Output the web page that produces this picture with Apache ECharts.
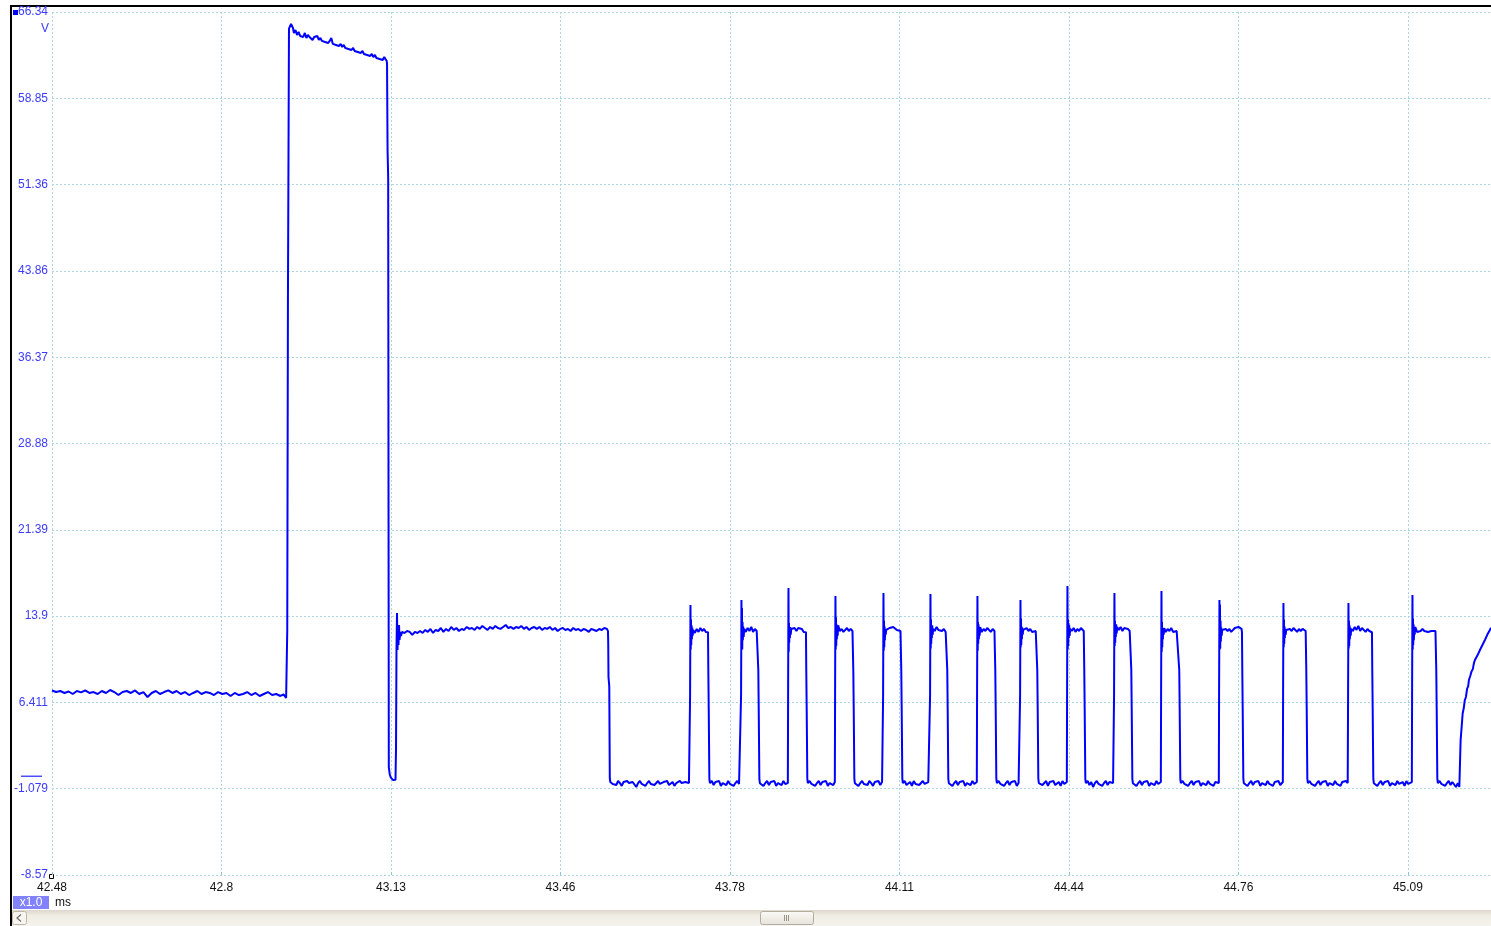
<!DOCTYPE html>
<html>
<head>
<meta charset="utf-8">
<script src="https://cdn.jsdelivr.net/npm/echarts@6/dist/echarts.min.js"></script>
<style>
html,body{margin:0;padding:0;background:#fff;overflow:hidden}
#chart{width:1491px;height:926px}
</style>
</head>
<body>
<div id="chart"></div>
<script>
// ---- axis tick labels (as printed on the scope screen) ----
const xTickLabels = ['42.48','42.8','43.13','43.46','43.78','44.11','44.44','44.76','45.09'];
const yTickLabels = ['-8.57','-1.079','6.411','13.9','21.39','28.88','36.37','43.86','51.36','58.85','66.34'];
const xUnit = 'ms';
const yUnit = 'V';
const zoomLabel = 'x1.0';
// scale of one grid division
const X_START = 42.478, X_DIV = 0.3265, X_END = 45.25;
const Y_START = -8.57, Y_DIV = 7.491, Y_DIVS = 10;

// ---- waveform samples [time ms, volts] ----
const idleLevel = [
[42.478,7.45],[42.486,7.32],[42.494,7.40],[42.502,7.23],[42.510,7.36],[42.518,7.14],[42.526,7.40],[42.534,7.28],
[42.542,7.45],[42.550,7.23],[42.558,7.31],[42.566,7.14],[42.574,7.40],[42.582,7.23],[42.590,7.49],[42.598,7.31],
[42.606,7.05],[42.614,7.31],[42.622,7.40],[42.630,7.23],[42.638,7.45],[42.646,7.14],[42.654,7.31],[42.662,6.88],
[42.670,7.23],[42.678,7.40],[42.686,7.14],[42.694,7.31],[42.702,7.45],[42.710,7.23],[42.718,7.40],[42.726,7.14],
[42.734,7.31],[42.742,7.05],[42.750,7.23],[42.758,7.40],[42.766,7.14],[42.774,7.31],[42.782,7.23],[42.790,7.05],
[42.798,7.31],[42.806,7.14],[42.814,7.23],[42.822,6.97],[42.830,7.23],[42.838,7.05],[42.846,7.14],[42.854,7.31],
[42.862,7.05],[42.870,7.23],[42.878,6.97],[42.886,7.14],[42.894,7.31],[42.902,7.05],[42.910,7.14],[42.918,6.97],
[42.924,7.10],[42.929,6.80]
];
const boostPhase = [
[42.9300,6.75],[42.9312,12.70],[42.9325,41.34],[42.9345,64.90],[42.9365,65.04],[42.9385,65.30],[42.9403,65.47],
[42.9422,64.95],[42.9440,64.52],[42.9470,64.78],[42.9500,64.35],[42.9530,64.61],[42.9560,64.26],[42.9590,64.43],
[42.9620,64.17],[42.9650,64.52],[42.9680,64.09],[42.9710,64.35],[42.9740,64.17],[42.9770,64.26],[42.9800,63.91],
[42.9830,64.17],[42.9860,64.00],[42.9890,64.26],[42.9920,63.91],[42.9950,64.09],[42.9980,63.83],[43.0010,64.00],
[43.0040,63.74],[43.0070,63.91],[43.0100,63.65],[43.0130,63.83],[43.0160,64.09],[43.0190,63.57],[43.0220,63.74],
[43.0250,63.48],[43.0280,63.65],[43.0310,63.39],[43.0340,63.57],[43.0370,63.30],[43.0400,63.48],[43.0430,63.22],
[43.0460,63.39],[43.0490,63.13],[43.0520,63.30],[43.0550,63.04],[43.0580,63.22],[43.0610,62.96],[43.0640,63.13],
[43.0670,62.87],[43.0700,63.04],[43.0730,62.78],[43.0760,62.96],[43.0790,62.70],[43.0820,62.87],[43.0850,62.61],
[43.0880,62.78],[43.0910,62.52],[43.0940,62.70],[43.0970,62.43],[43.1000,62.61],[43.1030,62.35],[43.1060,62.52],
[43.1090,62.26],[43.1120,62.43],[43.1150,62.17],[43.1180,62.43],[43.1210,62.26],[43.1228,62.09],
[43.1234,61.80],[43.1244,54.36],[43.1256,52.00],[43.1268,0.80],[43.1285,0.20],[43.1305,-0.10],[43.1330,-0.15],
[43.1350,-0.33],[43.1370,-0.41],[43.1385,-0.50],[43.1397,-0.30]
];
const holdPhase = [
[43.1407,2.45],[43.1416,10.96],[43.1426,14.17],[43.1436,10.96],[43.1445,12.87],[43.1455,11.39],[43.1465,13.13],
[43.1475,11.83],[43.1490,12.53],[43.1505,12.18],
[43.152,12.53],[43.157,12.44],[43.162,12.61],[43.167,12.53],[43.172,12.27],[43.177,12.53],[43.182,12.44],[43.187,12.61],
[43.192,12.44],[43.197,12.70],[43.202,12.53],[43.207,12.79],[43.212,12.44],[43.217,12.70],[43.222,12.61],[43.227,12.87],
[43.232,12.53],[43.237,12.79],[43.242,12.61],[43.247,12.96],[43.252,12.70],[43.257,12.87],[43.262,12.61],[43.267,12.79],
[43.272,12.70],[43.277,12.96],[43.282,12.79],[43.287,12.87],[43.292,12.70],[43.297,12.96],[43.302,12.79],[43.307,13.05],
[43.312,12.87],[43.317,12.70],[43.322,12.96],[43.327,12.79],[43.332,13.05],[43.337,12.87],[43.342,12.79],[43.347,12.96],
[43.352,13.13],[43.357,12.87],[43.362,12.96],[43.367,12.79],[43.372,12.96],[43.377,12.87],[43.382,13.05],[43.387,12.79],
[43.392,12.96],[43.397,12.70],[43.402,12.87],[43.407,12.96],[43.412,12.79],[43.417,12.96],[43.422,12.70],[43.427,12.87],
[43.432,12.79],[43.437,12.96],[43.442,12.70],[43.447,12.87],[43.452,12.61],[43.457,12.79],[43.462,12.87],[43.467,12.70],
[43.472,12.79],[43.477,12.61],[43.482,12.87],[43.487,12.70],[43.492,12.79],[43.497,12.61],[43.502,12.79],[43.507,12.70],
[43.512,12.53],[43.517,12.79],[43.522,12.70],[43.527,12.61],[43.532,12.79],[43.537,12.70],[43.542,12.87],[43.547,12.79],
[43.5490,12.60],[43.5495,11.50],[43.5500,8.62],[43.5515,7.80],[43.5525,-0.15],[43.5535,-0.50]
];
const lowGap = [
[43.5545,-0.41],[43.5580,-0.67],[43.5615,-0.50],[43.5650,-0.76],[43.5685,-0.41],[43.5720,-0.59],[43.5755,-0.84],
[43.5790,-0.50],[43.5825,-0.67],[43.5860,-0.41],[43.5895,-0.59],[43.5930,-0.76],[43.5965,-0.50],[43.6000,-0.67],
[43.6035,-0.93],[43.6070,-0.59],[43.6105,-0.41],[43.6140,-0.67],[43.6175,-0.50],[43.6210,-0.84],[43.6245,-0.59],
[43.6280,-0.41],[43.6315,-0.67],[43.6350,-0.50],[43.6385,-0.76],[43.6420,-0.59],[43.6455,-0.41],[43.6490,-0.67],
[43.6525,-0.84],[43.6560,-0.50],[43.6595,-0.67],[43.6630,-0.41],[43.6665,-0.76],[43.6700,-0.59],[43.6735,-0.50],
[43.6770,-0.84],[43.6805,-0.59],[43.6840,-0.67],[43.6875,-0.41],[43.6910,-0.59],[43.6945,-0.76],[43.6980,-0.50],
[43.7015,-0.67],[43.7050,-0.59],[43.7065,-0.50]
];
const pulsesA = [
// pulse 1
[43.7072,7.05],[43.7079,14.87],[43.7084,11.0],[43.7089,13.6],[43.7094,11.4],[43.7100,13.1],[43.7106,11.9],[43.7113,12.9],
[43.7122,12.2],[43.7132,12.7],[43.7165,12.44],[43.7200,12.79],[43.7235,12.53],[43.7270,12.87],[43.7305,12.61],[43.7340,12.79],
[43.7375,12.53],[43.7410,12.70],[43.7417,12.5],[43.7423,9.2],[43.7431,5.8],[43.7443,-0.2],[43.7453,-0.6],
[43.7490,-0.41],[43.7525,-0.76],[43.7560,-0.50],[43.7595,-0.67],[43.7630,-0.41],[43.7665,-0.84],[43.7700,-0.59],[43.7735,-0.50],
[43.7770,-0.76],[43.7805,-0.41],[43.7840,-0.67],[43.7875,-0.50],[43.7910,-0.84],[43.7945,-0.59],[43.7980,-0.41],[43.8015,-0.67],[43.8049,-0.50],
// pulse 2
[43.8054,7.05],[43.8061,15.30],[43.8066,11.2],[43.8071,14.6],[43.8076,11.0],[43.8082,13.4],[43.8088,11.8],[43.8095,13.0],
[43.8104,12.1],[43.8114,12.8],[43.8145,12.53],[43.8180,12.87],[43.8215,12.61],[43.8250,12.96],[43.8285,12.53],[43.8320,12.79],
[43.8355,12.61],[43.8378,12.70],[43.8380,12.5],[43.8386,9.2],[43.8394,5.8],[43.8406,-0.2],[43.8416,-0.6],
[43.8450,-0.50],[43.8485,-0.84],[43.8520,-0.59],[43.8555,-0.41],[43.8590,-0.76],[43.8625,-0.50],[43.8660,-0.67],[43.8695,-0.41],
[43.8730,-0.84],[43.8765,-0.59],[43.8800,-0.50],[43.8835,-0.76],[43.8870,-0.41],[43.8905,-0.67],[43.8940,-0.50],[43.8955,-0.59],
// pulse 3
[43.8960,7.05],[43.8967,16.34],[43.8972,10.8],[43.8977,13.3],[43.8982,11.6],[43.8988,12.9],[43.8994,12.0],[43.9001,12.96],
[43.9010,12.3],[43.9020,12.79],[43.9050,12.70],[43.9085,12.87],[43.9120,12.61],[43.9155,12.87],[43.9190,12.70],[43.9225,12.79],
[43.9260,12.53],[43.9295,12.70],[43.9304,12.5],[43.9310,9.2],[43.9318,5.8],[43.9330,-0.2],[43.9340,-0.6],
[43.9375,-0.41],[43.9410,-0.67],[43.9445,-0.50],[43.9480,-0.84],[43.9515,-0.59],[43.9550,-0.41],[43.9585,-0.76],[43.9620,-0.50],
[43.9655,-0.67],[43.9690,-0.41],[43.9725,-0.84],[43.9760,-0.59],[43.9795,-0.50],[43.9830,-0.76],[43.9860,-0.50],
// pulse 4
[43.9865,7.05],[43.9872,15.65],[43.9877,11.0],[43.9882,13.8],[43.9887,11.3],[43.9893,13.2],[43.9899,11.9],[43.9906,12.9],
[43.9915,12.2],[43.9925,13.1],[43.9955,12.61],[43.9990,12.79],[44.0025,12.53],[44.0060,12.70],[44.0095,12.87],[44.0130,12.61],
[44.0165,12.79],[44.0200,12.61],[44.0210,12.5],[44.0216,9.2],[44.0224,5.8],[44.0236,-0.2],[44.0246,-0.6],
[44.0280,-0.50],[44.0315,-0.84],[44.0350,-0.59],[44.0385,-0.41],[44.0420,-0.67],[44.0455,-0.50],[44.0490,-0.76],[44.0525,-0.41],
[44.0560,-0.59],[44.0595,-0.84],[44.0630,-0.50],[44.0665,-0.67],[44.0700,-0.41],[44.0735,-0.76],[44.0770,-0.50],[44.0785,-0.59],
// pulse 5
[44.0790,7.05],[44.0797,15.91],[44.0802,10.9],[44.0807,13.5],[44.0812,11.2],[44.0818,13.0],[44.0824,11.8],[44.0831,12.8],
[44.0840,12.3],[44.0850,12.7],[44.0880,12.61],[44.0915,12.87],[44.0950,12.70],[44.0985,12.96],[44.1020,12.79],[44.1055,12.70],
[44.1090,12.53],[44.1125,12.61],[44.1134,12.5],[44.1140,9.2],[44.1148,5.8],[44.1160,-0.2],[44.1170,-0.6],
[44.1205,-0.41],[44.1240,-0.76],[44.1275,-0.59],[44.1310,-0.50],[44.1345,-0.84],[44.1380,-0.41],[44.1415,-0.67],[44.1450,-0.50],
[44.1485,-0.76],[44.1520,-0.59],[44.1555,-0.41],[44.1590,-0.67],[44.1625,-0.84],[44.1660,-0.50],[44.1690,-0.59]
];
const pulsesB = [
// pulse 6
[44.1695,7.05],[44.1702,15.82],[44.1707,11.1],[44.1712,13.6],[44.1717,11.5],[44.1723,12.9],[44.1729,12.0],[44.1736,13.1],
[44.1745,12.3],[44.1755,12.8],[44.1785,12.61],[44.1820,12.96],[44.1855,12.70],[44.1890,12.79],[44.1925,12.61],[44.1960,12.79],
[44.1995,12.53],[44.2015,12.70],[44.2020,12.5],[44.2026,9.2],[44.2034,5.8],[44.2046,-0.2],[44.2056,-0.6],
[44.2090,-0.50],[44.2125,-0.84],[44.2160,-0.59],[44.2195,-0.41],[44.2230,-0.76],[44.2265,-0.50],[44.2300,-0.67],[44.2335,-0.41],
[44.2370,-0.84],[44.2405,-0.59],[44.2440,-0.50],[44.2475,-0.76],[44.2510,-0.41],[44.2545,-0.67],[44.2580,-0.59],[44.2595,-0.50],
// pulse 7
[44.2600,7.05],[44.2607,15.65],[44.2612,10.9],[44.2617,13.4],[44.2622,11.5],[44.2628,13.2],[44.2634,11.9],[44.2641,12.8],
[44.2650,12.2],[44.2660,12.96],[44.2690,12.53],[44.2725,12.79],[44.2760,12.61],[44.2795,12.87],[44.2830,12.70],[44.2865,12.53],
[44.2900,12.79],[44.2935,12.61],[44.2945,12.5],[44.2951,9.2],[44.2959,5.8],[44.2971,-0.2],[44.2981,-0.6],
[44.3015,-0.41],[44.3050,-0.67],[44.3085,-0.50],[44.3120,-0.84],[44.3155,-0.59],[44.3190,-0.41],[44.3225,-0.76],[44.3260,-0.50],
[44.3295,-0.67],[44.3330,-0.41],[44.3365,-0.84],[44.3400,-0.59],[44.3424,-0.50],
// pulse 8
[44.3429,7.05],[44.3436,15.30],[44.3441,11.2],[44.3446,13.7],[44.3451,11.4],[44.3457,13.0],[44.3463,11.9],[44.3470,12.9],
[44.3479,12.3],[44.3489,12.7],[44.3520,12.53],[44.3555,12.87],[44.3590,12.61],[44.3625,12.79],[44.3660,12.53],[44.3695,12.70],
[44.3730,12.61],[44.3750,12.70],[44.3754,12.5],[44.3760,9.2],[44.3768,5.8],[44.3780,-0.2],[44.3790,-0.6],
[44.3825,-0.50],[44.3860,-0.76],[44.3895,-0.59],[44.3930,-0.41],[44.3965,-0.84],[44.4000,-0.50],[44.4035,-0.67],[44.4070,-0.41],
[44.4105,-0.76],[44.4140,-0.59],[44.4175,-0.50],[44.4210,-0.84],[44.4245,-0.41],[44.4280,-0.67],[44.4315,-0.59],[44.4329,-0.50],
// pulse 9
[44.4334,7.05],[44.4341,16.52],[44.4346,11.0],[44.4351,13.6],[44.4356,11.3],[44.4362,13.3],[44.4368,12.0],[44.4375,13.1],
[44.4384,12.2],[44.4394,12.8],[44.4425,12.61],[44.4460,12.87],[44.4495,12.53],[44.4530,12.79],[44.4565,12.61],[44.4600,12.87],
[44.4635,12.70],[44.4655,12.61],[44.4659,12.5],[44.4665,9.2],[44.4673,5.8],[44.4685,-0.2],[44.4695,-0.6],
[44.4730,-0.41],[44.4765,-0.76],[44.4800,-0.50],[44.4835,-0.93],[44.4870,-0.59],[44.4905,-0.41],[44.4940,-0.67],[44.4975,-0.50],
[44.5010,-0.84],[44.5045,-0.59],[44.5080,-0.41],[44.5115,-0.76],[44.5150,-0.50],[44.5185,-0.67],[44.5220,-0.59],[44.5234,-0.50],
// pulse 10
[44.5239,7.05],[44.5246,15.91],[44.5251,11.3],[44.5256,13.5],[44.5261,11.6],[44.5267,13.1],[44.5273,12.1],[44.5280,13.2],
[44.5289,12.4],[44.5299,12.96],[44.5330,12.70],[44.5365,12.96],[44.5400,12.61],[44.5435,12.87],[44.5470,12.70],[44.5505,12.79],
[44.5540,12.61],[44.5560,12.70],[44.5565,12.5],[44.5571,9.2],[44.5579,5.8],[44.5591,-0.2],[44.5601,-0.6],
[44.5635,-0.50],[44.5670,-0.84],[44.5705,-0.59],[44.5740,-0.41],[44.5775,-0.76],[44.5810,-0.50],[44.5845,-0.67],[44.5880,-0.41],
[44.5915,-0.84],[44.5950,-0.59],[44.5985,-0.50],[44.6020,-0.76],[44.6055,-0.41],[44.6090,-0.67],[44.6125,-0.59],[44.6140,-0.50]
];
const pulsesC = [
// pulse 11
[44.6145,7.05],[44.6152,16.08],[44.6157,10.8],[44.6162,13.4],[44.6167,11.2],[44.6173,12.9],[44.6179,11.9],[44.6186,12.8],
[44.6195,12.3],[44.6205,12.87],[44.6235,12.53],[44.6270,12.79],[44.6305,12.61],[44.6340,12.87],[44.6375,12.53],[44.6410,12.70],
[44.6445,12.61],[44.6480,12.53],[44.6489,12.5],[44.6495,9.2],[44.6503,5.8],[44.6515,-0.2],[44.6525,-0.6],
[44.6560,-0.41],[44.6595,-0.67],[44.6630,-0.50],[44.6665,-0.84],[44.6700,-0.59],[44.6735,-0.41],[44.6770,-0.76],[44.6805,-0.50],
[44.6840,-0.67],[44.6875,-0.41],[44.6910,-0.84],[44.6945,-0.59],[44.6980,-0.50],[44.7015,-0.76],[44.7050,-0.41],[44.7085,-0.67],
[44.7120,-0.59],[44.7155,-0.84],[44.7190,-0.50],[44.7225,-0.67],[44.7257,-0.59],
// pulse 12
[44.7262,7.05],[44.7269,15.30],[44.7274,11.0],[44.7279,14.9],[44.7284,11.1],[44.7290,13.5],[44.7296,11.7],[44.7303,12.9],
[44.7312,12.2],[44.7322,12.7],[44.7355,12.53],[44.7390,12.79],[44.7425,12.61],[44.7460,12.79],[44.7495,12.53],[44.7530,12.70],
[44.7565,12.87],[44.7600,12.70],[44.7635,12.96],[44.7670,13.13],[44.7695,12.79],[44.7703,12.5],[44.7709,9.2],[44.7717,5.8],
[44.7729,-0.2],[44.7739,-0.6],
[44.7775,-0.50],[44.7810,-0.84],[44.7845,-0.59],[44.7880,-0.41],[44.7915,-0.76],[44.7950,-0.50],[44.7985,-0.67],[44.8020,-0.41],
[44.8055,-0.84],[44.8090,-0.59],[44.8125,-0.50],[44.8160,-0.76],[44.8195,-0.41],[44.8230,-0.67],[44.8265,-0.59],[44.8300,-0.84],
[44.8335,-0.50],[44.8370,-0.67],[44.8405,-0.41],[44.8440,-0.76],[44.8475,-0.59],[44.8490,-0.50],
// pulse 13
[44.8495,7.05],[44.8502,15.04],[44.8507,11.2],[44.8512,13.6],[44.8517,11.5],[44.8523,13.0],[44.8529,12.0],[44.8536,12.8],
[44.8545,12.3],[44.8555,12.7],[44.8590,12.53],[44.8625,12.79],[44.8660,12.61],[44.8695,12.87],[44.8730,12.70],[44.8765,12.53],
[44.8800,12.79],[44.8835,12.61],[44.8870,12.79],[44.8905,12.70],[44.8930,12.61],[44.8936,12.5],[44.8942,9.2],[44.8950,5.8],
[44.8962,-0.2],[44.8972,-0.6],
[44.9005,-0.41],[44.9040,-0.67],[44.9075,-0.50],[44.9110,-0.84],[44.9145,-0.59],[44.9180,-0.41],[44.9215,-0.76],[44.9250,-0.50],
[44.9285,-0.67],[44.9320,-0.41],[44.9355,-0.84],[44.9390,-0.59],[44.9425,-0.50],[44.9460,-0.76],[44.9495,-0.41],[44.9530,-0.67],
[44.9565,-0.59],[44.9600,-0.84],[44.9635,-0.50],[44.9670,-0.67],[44.9705,-0.41],[44.9740,-0.59],
// pulse 14
[44.9747,7.05],[44.9754,15.04],[44.9759,11.1],[44.9764,13.5],[44.9769,11.3],[44.9775,13.1],[44.9781,11.9],[44.9788,12.9],
[44.9797,12.2],[44.9807,12.8],[44.9840,12.61],[44.9875,12.96],[44.9910,12.70],[44.9945,13.05],[44.9980,12.61],[45.0015,12.87],
[45.0050,12.70],[45.0085,12.53],[45.0120,12.79],[45.0155,12.61],[45.0190,12.70],[45.0207,12.5],[45.0213,9.2],[45.0221,5.8],
[45.0233,-0.2],[45.0243,-0.6],
[45.0275,-0.50],[45.0310,-0.84],[45.0345,-0.59],[45.0380,-0.41],[45.0415,-0.76],[45.0450,-0.50],[45.0485,-0.67],[45.0520,-0.41],
[45.0555,-0.84],[45.0590,-0.59],[45.0625,-0.50],[45.0660,-0.76],[45.0695,-0.41],[45.0730,-0.67],[45.0765,-0.59],[45.0800,-0.50],
[45.0835,-0.84],[45.0870,-0.41],[45.0905,-0.67],[45.0940,-0.59],[45.0975,-0.50],
// pulse 15
[45.0980,7.05],[45.0987,15.74],[45.0992,11.0],[45.0997,13.7],[45.1002,11.4],[45.1008,13.2],[45.1014,11.8],[45.1021,12.9],
[45.1030,12.3],[45.1040,12.96],[45.1075,12.53],[45.1110,12.70],[45.1145,12.61],[45.1180,12.79],[45.1215,12.61],[45.1250,12.70],
[45.1285,12.53],[45.1320,12.70],[45.1355,12.61],[45.1390,12.70],[45.1430,12.61],[45.1440,12.5],[45.1446,9.2],[45.1454,5.8],
[45.1466,-0.2],[45.1476,-0.6],
[45.1510,-0.41],[45.1545,-0.67],[45.1580,-0.50],[45.1615,-0.84],[45.1650,-0.59],[45.1685,-0.41],[45.1720,-0.76],[45.1755,-0.50],
[45.1790,-0.67],[45.1825,-0.93],[45.1860,-0.59],[45.1880,-0.76]
];
const tailRise = [
[45.1890,-0.93],[45.1905,1.5],[45.1915,3.15],[45.1930,4.0],[45.1954,5.45],[45.1975,5.9],[45.1995,6.6],[45.2017,6.88],
[45.2040,7.6],[45.2060,7.8],[45.2075,8.36],[45.2100,8.7],[45.2125,9.1],[45.2150,9.3],[45.2170,9.8],[45.2190,10.09],
[45.2215,10.2],[45.2240,10.5],[45.2265,10.6],[45.2287,10.96],[45.2310,11.1],[45.2335,11.4],[45.2360,11.5],[45.2383,11.83],
[45.2405,11.9],[45.2430,12.3],[45.2455,12.2],[45.2479,12.70],[45.2500,12.9]
];

const waveform = [].concat(idleLevel, boostPhase, holdPhase, lowGap, pulsesA, pulsesB, pulsesC, tailRise);
const toDivX = t => (t - X_START) / X_DIV;
const toDivY = v => (v - Y_START) / Y_DIV;
const seriesData = waveform.map(([t, v]) => [toDivX(t), toDivY(v)]);

const FONT = '"Liberation Sans", Arial, sans-serif';
const gridColor = '#acd6e6';
const isWhole = v => Math.abs(v - Math.round(v)) < 1e-6;

const chart = echarts.init(document.getElementById('chart'), null, {renderer: 'canvas'});
const option = {
  animation: false,
  backgroundColor: '#ffffff',
  grid: {left: 52, right: 0, top: 12, bottom: 51, containLabel: false},
  xAxis: {
    type: 'value', min: 0, max: toDivX(X_END), interval: 1,
    axisLine: {show: false},
    axisTick: {show: true, inside: true, length: 3, lineStyle: {color: '#8fc3d6'}},
    axisLabel: {
      show: true, margin: 7, color: '#111', fontSize: 12, fontFamily: FONT,
      showMinLabel: true, showMaxLabel: false,
      formatter: v => isWhole(v) ? (xTickLabels[Math.round(v)] || '') : ''
    },
    splitLine: {show: true, lineStyle: {color: gridColor, type: [2, 2], width: 1}}
  },
  yAxis: {
    type: 'value', min: 0, max: Y_DIVS, interval: 1,
    axisLine: {show: false},
    axisTick: {show: false},
    axisLabel: {
      show: true, margin: 4, color: '#3b3bff', fontSize: 12, fontFamily: FONT,
      showMinLabel: true, showMaxLabel: true,
      formatter: v => isWhole(v) ? (yTickLabels[Math.round(v)] || '') : ''
    },
    splitLine: {show: true, lineStyle: {color: gridColor, type: [2, 2], width: 1}}
  },
  series: [{
    type: 'line', data: seriesData, showSymbol: false, symbol: 'none',
    lineStyle: {color: '#0000ff', width: 2}, silent: true, clip: true
  }]
};
chart.setOption(option);

const zeroY = chart.convertToPixel({gridIndex: 0}, [0, toDivY(0)])[1];
chart.setOption({
  graphic: [
    {type: 'rect', shape: {x: 10, y: 5, width: 1481, height: 2}, style: {fill: '#000'}, silent: true},
    {type: 'rect', shape: {x: 10, y: 5, width: 2, height: 921}, style: {fill: '#000'}, silent: true},
    {type: 'rect', shape: {x: 13, y: 10, width: 5, height: 5}, style: {fill: '#0000ff'}, silent: true},
    {type: 'text', x: 49, y: 29, style: {text: yUnit, fill: '#3b3bff', font: '12px ' + FONT, textAlign: 'right', textVerticalAlign: 'middle'}, silent: true},
    {type: 'line', shape: {x1: 21, y1: zeroY, x2: 42, y2: zeroY}, style: {stroke: '#4b4bff', lineWidth: 1.5}, silent: true},
    {type: 'rect', shape: {x: 49.5, y: 874.5, width: 4, height: 4}, style: {fill: '#fff', stroke: '#000', lineWidth: 1}, silent: true},
    {type: 'rect', shape: {x: 13, y: 896, width: 36, height: 13}, style: {fill: '#8282ff'}, silent: true},
    {type: 'text', x: 31, y: 903, style: {text: zoomLabel, fill: '#ffffff', font: '12px ' + FONT, textAlign: 'center', textVerticalAlign: 'middle'}, silent: true},
    {type: 'text', x: 55, y: 903, style: {text: xUnit, fill: '#111', font: '12px ' + FONT, textAlign: 'left', textVerticalAlign: 'middle'}, silent: true},
    {type: 'rect', shape: {x: 12, y: 910, width: 1479, height: 16},
      style: {fill: new echarts.graphic.LinearGradient(0, 0, 0, 1, [{offset: 0, color: '#dcd7cb'}, {offset: 0.35, color: '#f0ede5'}, {offset: 1, color: '#f5f3ee'}])}, silent: true},
    {type: 'rect', shape: {x: 12.5, y: 911.5, width: 14, height: 13, r: 2}, style: {fill: '#f7f5f0', stroke: '#bdb7a9', lineWidth: 1}, silent: true},
    {type: 'polyline', shape: {points: [[21, 914.5], [17, 918], [21, 921.5]]}, style: {stroke: '#6e6e6e', lineWidth: 1.2, fill: null}, silent: true},
    {type: 'rect', shape: {x: 760.5, y: 911.5, width: 53, height: 13, r: 2},
      style: {fill: new echarts.graphic.LinearGradient(0, 0, 0, 1, [{offset: 0, color: '#fbfaf7'}, {offset: 1, color: '#e6e2d8'}]), stroke: '#b3ad9f', lineWidth: 1}, silent: true},
    {type: 'line', shape: {x1: 784.5, y1: 915, x2: 784.5, y2: 921}, style: {stroke: '#9a9488', lineWidth: 1}, silent: true},
    {type: 'line', shape: {x1: 786.5, y1: 915, x2: 786.5, y2: 921}, style: {stroke: '#9a9488', lineWidth: 1}, silent: true},
    {type: 'line', shape: {x1: 788.5, y1: 915, x2: 788.5, y2: 921}, style: {stroke: '#9a9488', lineWidth: 1}, silent: true}
  ]
});
</script>
</body>
</html>
